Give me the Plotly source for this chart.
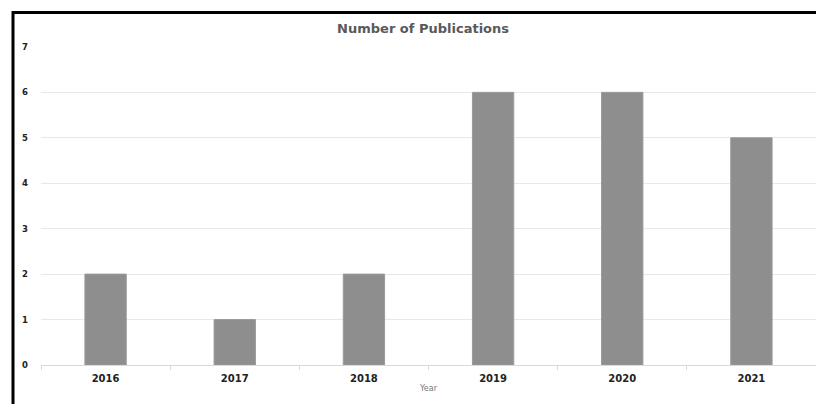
import plotly.graph_objects as go

years = ["2016", "2017", "2018", "2019", "2020", "2021"]
publications = [2, 1, 2, 6, 6, 5]
y_ticks = [0, 1, 2, 3, 4, 5, 6, 7]

fig = go.Figure()
fig.add_trace(go.Bar(
    x=years, y=publications,
    marker=dict(color="#8e8e8e", line=dict(color="#9a9a9a", width=1)),
    width=0.32,
))

fig.update_layout(
    width=816, height=404,
    margin=dict(l=41, r=0, t=46, b=39),
    paper_bgcolor="white", plot_bgcolor="white",
    showlegend=False,
    font=dict(family="DejaVu Sans", color="#333333"),
    title=dict(text="<b>Number of Publications</b>", x=0.493, xref="paper",
               y=1 - 28 / 404, yanchor="middle",
               font=dict(size=13, color="#595959", family="DejaVu Sans")),
    xaxis=dict(
        type="category",
        tickson="boundaries",
        ticks="outside", ticklen=4, tickcolor="#d9d9d9",
        showline=True, linecolor="#d9d9d9", linewidth=1,
        showgrid=False,
        ticklabelstandoff=4,
        tickfont=dict(size=10, color="#222222", family="DejaVu Sans", weight="bold"),
        title=dict(text="Year", font=dict(size=8, color="#777777"), standoff=2),
    ),
    yaxis=dict(
        range=[0, 7.02], tickvals=y_ticks,
        showgrid=True, gridcolor="#e8e8e8", gridwidth=1,
        zeroline=False, showline=False,
        ticks="", ticklabelstandoff=12,
        tickfont=dict(size=8.5, color="#222222", family="DejaVu Sans", weight="bold"),
    ),
    shapes=[
        dict(type="line", xref="paper", yref="paper",
             x0=(12 - 41) / 775, x1=1.0, y0=(365 - 12.5) / 319, y1=(365 - 12.5) / 319,
             line=dict(color="black", width=3)),
        dict(type="line", xref="paper", yref="paper",
             x0=(13 - 41) / 775, x1=(13 - 41) / 775, y0=(365 - 11) / 319, y1=(365 - 410) / 319,
             line=dict(color="black", width=3)),
    ],
)

fig.write_html("out.html")
